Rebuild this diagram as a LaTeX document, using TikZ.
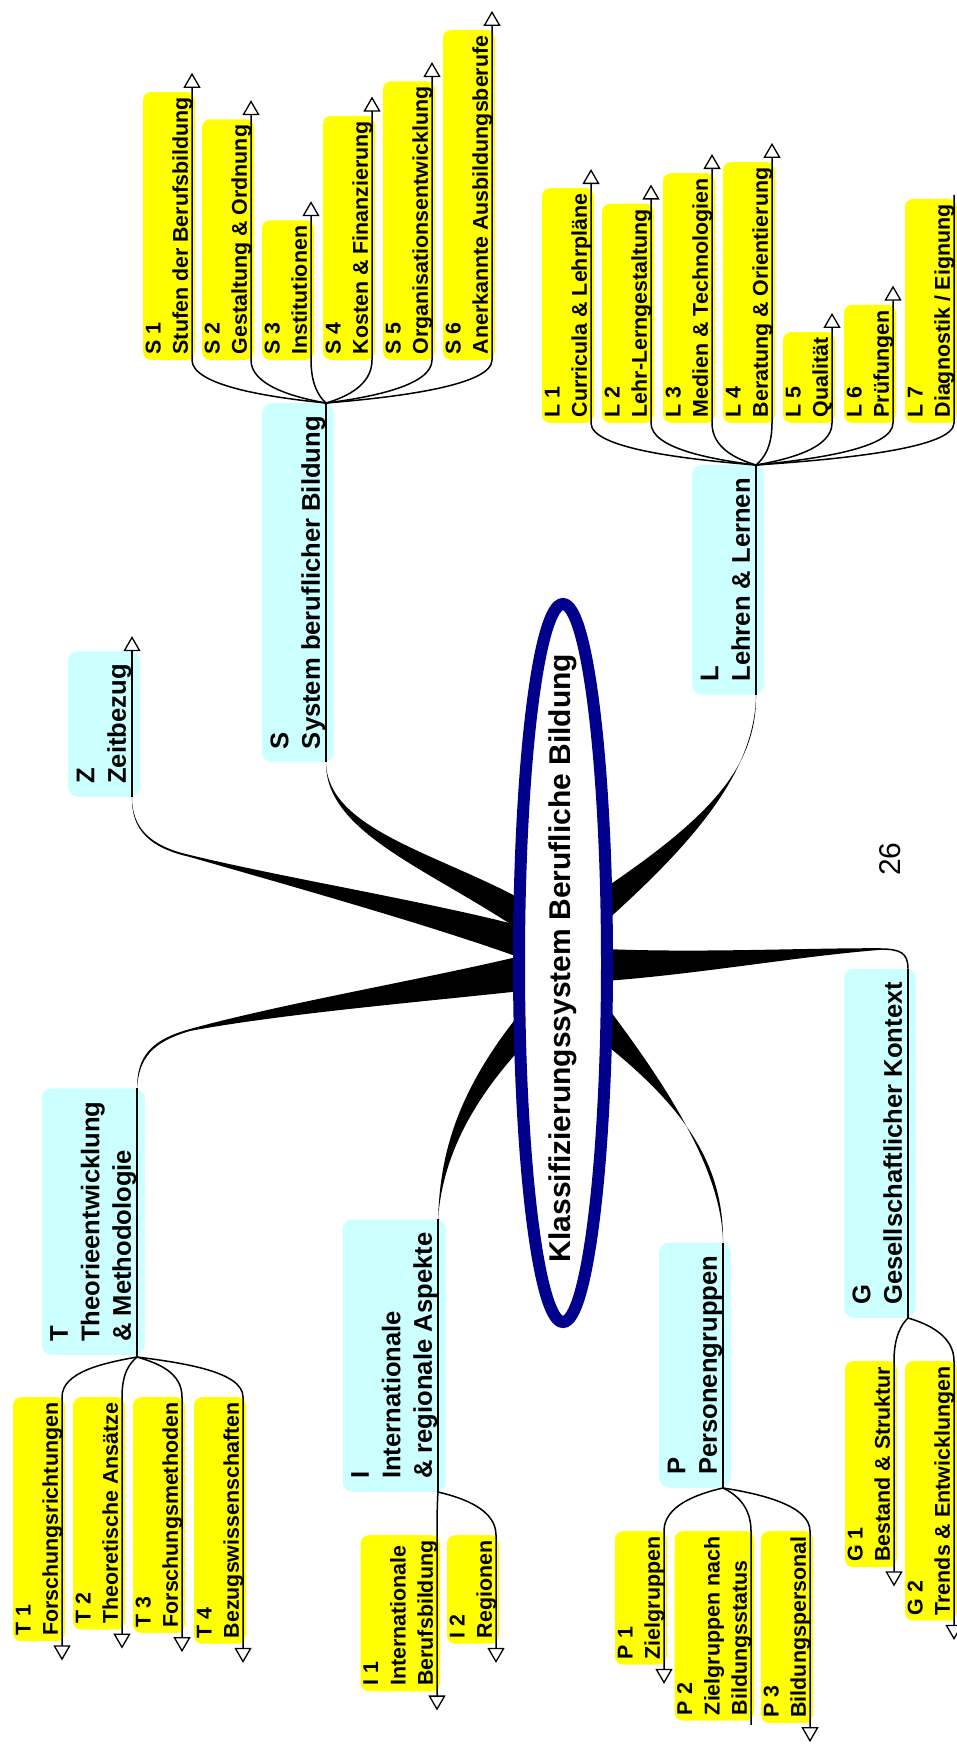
\documentclass[tikz,border=0pt]{standalone}
\usepackage{fontspec}
\setmainfont{Liberation Sans}
\usetikzlibrary{arrows.meta,calc,shapes.geometric}
\definecolor{ylw}{RGB}{255,255,0}
\definecolor{cyn}{RGB}{204,255,255}
\definecolor{navyblue}{RGB}{0,0,140}
\newcommand{\kidtwo}[2]{\rule{0pt}{17.5pt}#1\\#2\rule[-7pt]{0pt}{7pt}}
\newcommand{\kidthree}[3]{\rule{0pt}{17.5pt}#1\\#2\\#3\rule[-7pt]{0pt}{7pt}}
\newcommand{\topictwo}[2]{\rule{0pt}{26.3pt}#1\\#2\rule[-14pt]{0pt}{14pt}}
\newcommand{\topicthree}[3]{\rule{0pt}{26.3pt}#1\\#2\\#3\rule[-14pt]{0pt}{14pt}}
\newcommand{\kidlink}[5]{\draw[arr] (#1) .. controls ($(#1)!0.45!(#1 -| #2)+(0,#4)$) and ($(#2)+(0,#5)$) .. (#2) -- (#3);}
\newcommand{\kidplain}[5]{\draw[conn] (#1) .. controls ($(#1)!0.45!(#1 -| #2)+(0,#4)$) and ($(#2)+(0,#5)$) .. (#2) -- (#3);}
\begin{document}
\begin{tikzpicture}[x=1pt,y=-1pt,
  kid/.style={rotate=90, fill=ylw, rounded corners=8pt, align=left, inner xsep=5.5pt, inner ysep=0pt, font=\fontsize{21.4}{27.3}\selectfont\bfseries},
  topic/.style={rotate=90, fill=cyn, rounded corners=10pt, align=left, inner xsep=13pt, inner ysep=0pt, font=\fontsize{25.6}{31.5}\selectfont\bfseries},
  conn/.style={line width=1.5pt, black},
  arr/.style={conn, -{Triangle[length=15pt,width=17pt,fill=white,line width=1.3pt]}},
  band/.style={fill=black}]
\useasboundingbox (0,0) rectangle (957,1753);
\clip (0,0) rectangle (957,1753);

% ---------- children: S ----------
\node[kid,anchor=south west] (S1) at (195,360) {\kidtwo{S 1}{Stufen der Berufsbildung}};
\node[kid,anchor=south west] (S2) at (254,360) {\kidtwo{S 2}{Gestaltung \& Ordnung}};
\node[kid,anchor=south west] (S3) at (314,360) {\kidtwo{S 3}{Institutionen}};
\node[kid,anchor=south west] (S4) at (375,360) {\kidtwo{S 4}{Kosten \& Finanzierung}};
\node[kid,anchor=south west] (S5) at (435,360) {\kidtwo{S 5}{Organisationsentwicklung}};
\node[kid,anchor=south west] (S6) at (495,360) {\kidtwo{S 6}{Anerkannte Ausbildungsberufe}};
% ---------- children: L ----------
\node[kid,anchor=south west] (L1) at (594,423) {\kidtwo{L 1}{Curricula \& Lehrpläne}};
\node[kid,anchor=south west] (L2) at (654,423) {\kidtwo{L 2}{Lehr-Lerngestaltung}};
\node[kid,anchor=south west] (L3) at (715,423) {\kidtwo{L 3}{Medien \& Technologien}};
\node[kid,anchor=south west] (L4) at (775,423) {\kidtwo{L 4}{Beratung \& Orientierung}};
\node[kid,anchor=south west] (L5) at (835,423) {\kidtwo{L 5}{Qualität}};
\node[kid,anchor=south west] (L6) at (896,423) {\kidtwo{L 6}{Prüfungen}};
\node[kid,anchor=south west] (L7) at (957,423) {\kidtwo{L 7}{Diagnostik / Eignung}};
% ---------- children: T ----------
\node[kid,anchor=south east] (T1) at (65,1397) {\kidtwo{T 1}{Forschungsrichtungen}};
\node[kid,anchor=south east] (T2) at (125,1397) {\kidtwo{T 2}{Theoretische Ansätze}};
\node[kid,anchor=south east] (T3) at (185,1397) {\kidtwo{T 3}{Forschungsmethoden}};
\node[kid,anchor=south east] (T4) at (246,1397) {\kidtwo{T 4}{Bezugswissenschaften}};
% ---------- children: I ----------
\node[kid,anchor=south east] (I1) at (440,1535) {\kidthree{I 1}{Internationale}{Berufsbildung}};
\node[kid,anchor=south east] (I2) at (499,1535) {\kidtwo{I 2}{Regionen}};
% ---------- children: P ----------
\node[kid,anchor=south east] (P1) at (667,1531) {\kidtwo{P 1}{Zielgruppen}};
\node[kid,anchor=south east] (P2) at (754,1531) {\kidthree{P 2}{Zielgruppen nach}{Bildungsstatus}};
\node[kid,anchor=south east] (P3) at (813,1531) {\kidtwo{P 3}{Bildungspersonal}};
% ---------- children: G ----------
\node[kid,anchor=south east] (G1) at (897,1361) {\kidtwo{G 1}{Bestand \& Struktur}};
\node[kid,anchor=south east] (G2) at (957,1361) {\kidtwo{G 2}{Trends \& Entwicklungen}};

% ---------- main topics ----------
\node[topic,anchor=south east] (S) at (334,403) {\topictwo{S}{System beruflicher Bildung}};
\node[topic,anchor=south west] (Z) at (140,797) {\topictwo{Z}{Zeitbezug}};
\node[topic,anchor=south east] (L) at (764,465) {\topictwo{L}{Lehren \& Lernen}};
\node[topic,anchor=south west] (T) at (145,1355) {\topicthree{T}{Theorieentwicklung}{\& Methodologie}};
\node[topic,anchor=south west] (I) at (446,1492) {\topicthree{I}{Internationale}{\& regionale Aspekte}};
\node[topic,anchor=south west] (P) at (731,1488) {\topictwo{P}{Personengruppen}};
\node[topic,anchor=south west] (G) at (916,1318) {\topictwo{G}{Gesellschaftlicher Kontext}};

% ---------- line ends of main topics ----------
\coordinate (hS) at ($(S.south east)+(-8,0)$);
\coordinate (S-end) at ($(S.south west)+(-8,0)$);
\coordinate (Z-end) at ($(Z.south west)+(-8,0)$);
\coordinate (Z-tip) at ($(Z.south east)+(-8,-15)$);
\coordinate (hL) at ($(L.south east)+(-8,0)$);
\coordinate (L-end) at ($(L.south west)+(-8,0)$);
\coordinate (hT) at ($(T.south west)+(-8,2)$);
\coordinate (T-end) at ($(T.south east)+(-8,0)$);
\coordinate (hI) at ($(I.south west)+(-8,0)$);
\coordinate (I-end) at ($(I.south east)+(-8,0)$);
\coordinate (hP) at ($(P.south west)+(-8,0)$);
\coordinate (P-end) at ($(P.south east)+(-8,0)$);
\coordinate (hG) at ($(G.south west)+(-8,0)$);
\coordinate (G-end) at ($(G.south east)+(-8,0)$);

% ---------- line ends of children ----------
\foreach \c in {S1,S2,S3,S4,S5,S6,L1,L2,L3,L4,L5,L6}{
  \coordinate (\c a) at ($(\c.south west)+(-3,0)$);
  \coordinate (\c b) at ($(\c.south east)+(-3,-19)$);
}
\coordinate (L7a) at ($(L7.south west)+(-3,0)$);
\coordinate (L7b) at ($(L7.south east)+(-3,-4)$);
\foreach \c in {T1,T2,T3,T4,I1,I2,P1,P3,G1,G2}{
  \coordinate (\c a) at ($(\c.south east)+(-3,0)$);
  \coordinate (\c b) at ($(\c.south west)+(-3,19)$);
}
\coordinate (P2a) at ($(P2.south east)+(-3,0)$);
\coordinate (P2b) at ($(P2.south west)+(-3,4)$);

% ---------- main topic lines ----------
\draw[conn] (S-end) -- (hS);
\draw[arr] (Z-end) -- (Z-tip);
\draw[conn] (L-end) -- (hL);
\draw[conn] (T-end) -- (hT);
\draw[conn] (I-end) -- (hI);
\draw[conn] (P-end) -- (hP);
\draw[conn] (G-end) -- (hG);

% ---------- child connectors ----------
\foreach \c in {S1,S2,S3,S4,S5,S6}{\kidlink{hS}{\c a}{\c b}{-6}{25}}
\foreach \c in {L1,L2,L3,L4,L5,L6}{\kidlink{hL}{\c a}{\c b}{-6}{25}}
\kidplain{hL}{L7a}{L7b}{-6}{25}
\foreach \c in {T1,T2,T3,T4}{\kidlink{hT}{\c a}{\c b}{6}{-25}}
\foreach \c in {I1,I2}{\kidlink{hI}{\c a}{\c b}{6}{-25}}
\foreach \c in {P1,P3}{\kidlink{hP}{\c a}{\c b}{6}{-25}}
\kidplain{hP}{P2a}{P2b}{6}{-25}
\foreach \c in {G1,G2}{\kidlink{hG}{\c a}{\c b}{6}{-25}}

% ---------- tapered bands from the centre ----------
% S
\fill[band] (S-end) .. controls (327,828) and (433,852) .. (521,899) -- (521,931) .. controls (427,868) and (325,832) .. (S-end) -- cycle;
% Z
\fill[band] (Z-end) .. controls ($(Z-end)+(0,31)$) and (150,846) .. (190,855) .. controls (280,877) and (430,902) .. (521,926) -- (521,958) .. controls (430,925) and (280,883) .. (190,857) .. controls (150,848) and ($(Z-end)+(-1,33)$) .. (Z-end) -- cycle;
% T
\fill[band] (T-end) .. controls ($(T-end)+(0,-31)$) and (150,1040) .. (190,1029) .. controls (280,1004) and (420,980) .. (521,956) -- (521,991) .. controls (420,1002) and (280,1014) .. (190,1031) .. controls (152,1042) and ($(T-end)+(2,-30)$) .. (T-end) -- cycle;
% I
\fill[band] (I-end) .. controls (440,1160) and (453,1096) .. (521,1012) -- (521,1048) .. controls (468,1106) and (442,1162) .. (I-end) -- cycle;
% L
\fill[band] (L-end) .. controls (757,768) and (708,818) .. (605,888) -- (605,922) .. controls (694,842) and (755,772) .. (L-end) -- cycle;
% P
\fill[band] (P-end) .. controls (722,1172) and (670,1090) .. (605,1004) -- (605,1044) .. controls (688,1110) and (724,1168) .. (P-end) -- cycle;
% G
\draw[conn] (G-end) .. controls ($(G-end)+(0,-16)$) and (900,949) .. (880,949);
\fill[band] (881,948.2) .. controls (800,948) and (700,953) .. (605,949) -- (605,981) .. controls (700,974) and (800,956) .. (881,949.8) -- cycle;

% ---------- centre ----------
\node[ellipse, draw=navyblue, line width=12pt, fill=white, minimum width=88pt, minimum height=718pt, inner sep=0pt] (centre) at (563,963) {};
\node[rotate=90, font=\fontsize{30}{36}\selectfont\bfseries] (title) at (563,958) {Klassifizierungssystem Berufliche Bildung};
\node[rotate=90, font=\fontsize{30}{36}\selectfont] (pagenum) at (890,859) {26};
\end{tikzpicture}
\end{document}
